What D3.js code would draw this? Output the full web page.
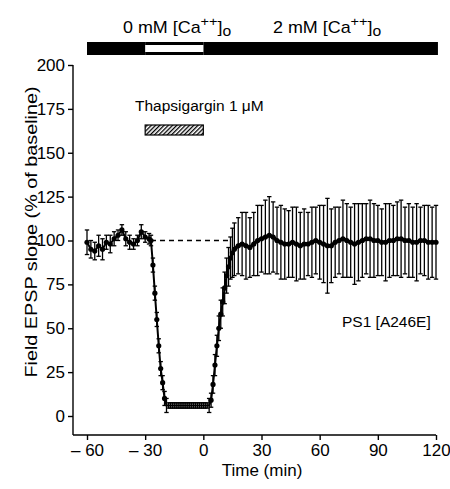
<!DOCTYPE html>
<html>
<head>
<meta charset="utf-8">
<script src="https://cdn.jsdelivr.net/npm/d3@7"></script>
<style>
  body { margin: 0; background: #fff; }
  text { font-family: "Liberation Sans", Arial, sans-serif; fill: #000; }
</style>
</head>
<body>
<div id="chart"></div>
<script>
// Time points (min) and mean +/- SEM of field EPSP slope (% of baseline)
var baseTime = [-60, -58, -56, -54, -52, -50, -48, -46, -44, -42, -40, -38, -36, -34, -32, -30, -28]
var baseMean = [99, 95, 94, 97, 95, 99, 98, 101, 103, 106, 101, 99, 98, 100, 105, 102, 101]
var baseSem = [7, 5, 5, 6, 6, 4, 5, 4, 3, 3, 4, 4, 3, 3, 4, 3, 3]

var dropTime = [-27, -26, -25, -24, -23, -22, -21, -20]
var dropMean = [100, 86, 70, 55, 40, 27, 19, 10]
var dropSem = [3, 4, 4, 4, 4, 4, 4, 4]

var flatTime = [-19, -18, -17, -16, -15, -14, -13, -12, -11, -10, -9, -8, -7, -6, -5, -4, -3, -2, -1, 0, 1, 2, 3]
var flatMean = [6, 6, 6, 6, 6, 6, 6, 6, 6, 6, 6, 6, 6, 6, 6, 6, 6, 6, 6, 6, 6, 6, 6]
var flatSem = [4, 1.5, 1.5, 1.5, 1.5, 1.5, 1.5, 1.5, 1.5, 1.5, 1.5, 1.5, 1.5, 1.5, 1.5, 1.5, 1.5, 1.5, 1.5, 1.5, 1.5, 1.5, 4]

var recTime = [4, 5, 6, 7, 8, 9, 10, 11, 12, 13, 14, 15, 16]
var recMean = [9, 18, 29, 40, 50, 58, 65, 73, 80, 85, 90, 93, 95]
var recSem = [4, 5, 6, 6, 7, 8, 8, 9, 10, 11, 12, 14, 15]

var lateTime = [18, 20, 22, 24, 26, 28, 30, 32, 34, 36,
  38, 40, 42, 44, 46, 48, 50, 52, 54, 56,
  58, 60, 62, 64, 66, 68, 70, 72, 74, 76,
  78, 80, 82, 84, 86, 88, 90, 92, 94, 96,
  98, 100, 102, 104, 106, 108, 110, 112, 114, 116,
  118, 120]
var lateMean = [97, 98, 97, 96, 98, 100, 101, 102, 103, 102,
  100, 99, 98, 98, 99, 98, 97, 98, 98, 99,
  100, 99, 98, 97, 97, 99, 100, 101, 100, 99,
  98, 99, 100, 101, 101, 100, 100, 99, 99, 100,
  100, 101, 101, 100, 100, 99, 99, 100, 100, 99,
  99, 99]
var lateSem = [16, 18, 19, 17, 18, 20, 19, 21, 22, 20,
  19, 21, 20, 19, 20, 21, 19, 20, 18, 20,
  19, 21, 22, 27, 21, 20, 19, 22, 21, 20,
  23, 22, 21, 20, 22, 21, 20, 19, 22, 21,
  20, 21, 22, 19, 21, 20, 22, 19, 20, 21,
  20, 21]

var xTicks = [-60, -30, 0, 30, 60, 90, 120]
var yTicks = [0, 25, 50, 75, 100, 125, 150, 175, 200]
// protocol periods (min)
var calciumPeriods = [
  { start: -60, end: -30 },
  { start: -30, end: 0 },
  { start: 0, end: 121 }
]
var zeroCalcium = [-30, 0]
var drugPeriod = [-30, 0]

var width = 450
var height = 489

var svg = d3
  .select('#chart')
  .append('svg')
  .attr('width', width)
  .attr('height', height)

var x = d3.scaleLinear().domain([-60, 120]).range([87, 436])
var y = d3.scaleLinear().domain([0, 200]).range([416, 65])
var axisX = 73
var axisY = 435

function toPoints (t, m, s) {
  return t.map((d, i) => ({ t: d, m: m[i], s: s[i] }))
}
var early = toPoints(baseTime, baseMean, baseSem)
  .concat(toPoints(dropTime, dropMean, dropSem))
  .concat(toPoints(flatTime, flatMean, flatSem))
  .concat(toPoints(recTime, recMean, recSem))
var late = toPoints(recTime.slice(-1), recMean.slice(-1), recSem.slice(-1))
  .concat(toPoints(lateTime, lateMean, lateSem))
var all = early.concat(toPoints(lateTime, lateMean, lateSem))

// axes
svg.append('line')
  .attr('x1', axisX).attr('x2', axisX)
  .attr('y1', y(200)).attr('y2', axisY)
  .attr('stroke', '#000').attr('stroke-width', 1.4)
svg.append('line')
  .attr('x1', axisX).attr('x2', x(120))
  .attr('y1', axisY).attr('y2', axisY)
  .attr('stroke', '#000').attr('stroke-width', 1.4)

var yAxis = svg.append('g')
  .attr('transform', `translate(${axisX},0)`)
  .call(d3.axisLeft(y).tickValues(yTicks).tickSize(5).tickPadding(3))
yAxis.select('.domain').remove()
yAxis.selectAll('line').attr('stroke-width', 1.4)
yAxis.selectAll('text').attr('font-size', 17).attr('font-family', '"Liberation Sans", Arial, sans-serif')

var xAxis = svg.append('g')
  .attr('transform', `translate(0,${axisY})`)
  .call(d3.axisBottom(x).tickValues(xTicks).tickSize(5).tickPadding(4)
    .tickFormat(d => d < 0 ? '\u2013 ' + Math.abs(d) : d))
xAxis.select('.domain').remove()
xAxis.selectAll('line').attr('stroke-width', 1.4)
xAxis.selectAll('text').attr('font-size', 17).attr('font-family', '"Liberation Sans", Arial, sans-serif')

svg.append('text')
  .attr('x', 262).attr('y', 476)
  .attr('text-anchor', 'middle')
  .attr('font-size', 17)
  .text('Time (min)')

// y label is a bit wider than the plain font, stretch it along its run
svg.append('text')
  .attr('transform', `translate(37,232) rotate(-90) scale(1.2,1)`)
  .attr('text-anchor', 'middle')
  .attr('font-size', 16.5)
  .text('Field EPSP slope (% of baseline)')

// calcium bar
var barTop = 42
svg.append('g')
  .selectAll('rect')
  .data(calciumPeriods)
  .enter()
  .append('rect')
  .attr('x', d => x(d.start))
  .attr('width', d => x(d.end) - x(d.start))
  .attr('y', barTop)
  .attr('height', 13)
  .attr('fill', '#000')
svg.append('rect')
  .attr('x', x(zeroCalcium[0]))
  .attr('width', x(zeroCalcium[1]) - x(zeroCalcium[0]))
  .attr('y', barTop + 3)
  .attr('height', 7)
  .attr('fill', '#fff')

function caLabel (xPos, conc) {
  var t = svg.append('text')
    .attr('transform', `translate(${xPos},33) scale(1.12,1)`)
    .attr('font-size', 16)
  t.append('tspan').text(conc + ' mM [Ca')
  t.append('tspan').attr('dy', -7).attr('font-size', 13).text('++')
  t.append('tspan').attr('dy', 7).text(']')
  t.append('tspan').attr('dy', 3).attr('font-size', 14).text('o')
}
caLabel(123, '0')
caLabel(273, '2')

// thapsigargin bar
var defs = svg.append('defs')
defs.append('pattern')
  .attr('id', 'hatch')
  .attr('patternUnits', 'userSpaceOnUse')
  .attr('width', 3)
  .attr('height', 3)
  .attr('patternTransform', 'rotate(45)')
  .append('rect')
  .attr('width', 1.3)
  .attr('height', 3)
  .attr('fill', '#000')
svg.append('rect')
  .attr('x', x(drugPeriod[0]))
  .attr('width', x(drugPeriod[1]) - x(drugPeriod[0]))
  .attr('y', 125)
  .attr('height', 10)
  .attr('fill', 'url(#hatch)')
  .attr('stroke', '#000')
  .attr('stroke-width', 1.2)
svg.append('text')
  .attr('x', 135).attr('y', 111)
  .attr('font-size', 15.5)
  .text('Thapsigargin 1 \u03bcM')

svg.append('text')
  .attr('x', 342).attr('y', 327)
  .attr('font-size', 15.5)
  .text('PS1 [A246E]')

// baseline reference
svg.append('line')
  .attr('x1', x(-27)).attr('x2', x(15))
  .attr('y1', y(100)).attr('y2', y(100))
  .attr('stroke', '#000')
  .attr('stroke-width', 1.5)
  .attr('stroke-dasharray', '5,4')

// error bars
var bars = svg.append('g').attr('stroke', '#000').attr('stroke-width', 1.3)
bars.selectAll('line.v')
  .data(all)
  .enter()
  .append('line')
  .attr('class', 'v')
  .attr('x1', d => x(d.t)).attr('x2', d => x(d.t))
  .attr('y1', d => y(d.m + d.s)).attr('y2', d => y(d.m - d.s))
bars.selectAll('line.top')
  .data(all)
  .enter()
  .append('line')
  .attr('class', 'top')
  .attr('x1', d => x(d.t) - 2.2).attr('x2', d => x(d.t) + 2.2)
  .attr('y1', d => y(d.m + d.s)).attr('y2', d => y(d.m + d.s))
bars.selectAll('line.bot')
  .data(all)
  .enter()
  .append('line')
  .attr('class', 'bot')
  .attr('x1', d => x(d.t) - 2.2).attr('x2', d => x(d.t) + 2.2)
  .attr('y1', d => y(d.m - d.s)).attr('y2', d => y(d.m - d.s))

// mean line
var line = d3.line().x(d => x(d.t)).y(d => y(d.m))
svg.append('path')
  .datum(early)
  .attr('d', line)
  .attr('fill', 'none')
  .attr('stroke', '#000')
  .attr('stroke-width', 2)
svg.append('path')
  .datum(late)
  .attr('d', line)
  .attr('fill', 'none')
  .attr('stroke', '#000')
  .attr('stroke-width', 3.5)

// markers, skipping the flat run where they merge into a dotted band
svg.append('g')
  .selectAll('circle')
  .data(all.filter(d => d.t < -19 || d.t > 3))
  .enter()
  .append('circle')
  .attr('cx', d => x(d.t))
  .attr('cy', d => y(d.m))
  .attr('r', 2.6)
  .attr('fill', '#000')
</script>
</body>
</html>
